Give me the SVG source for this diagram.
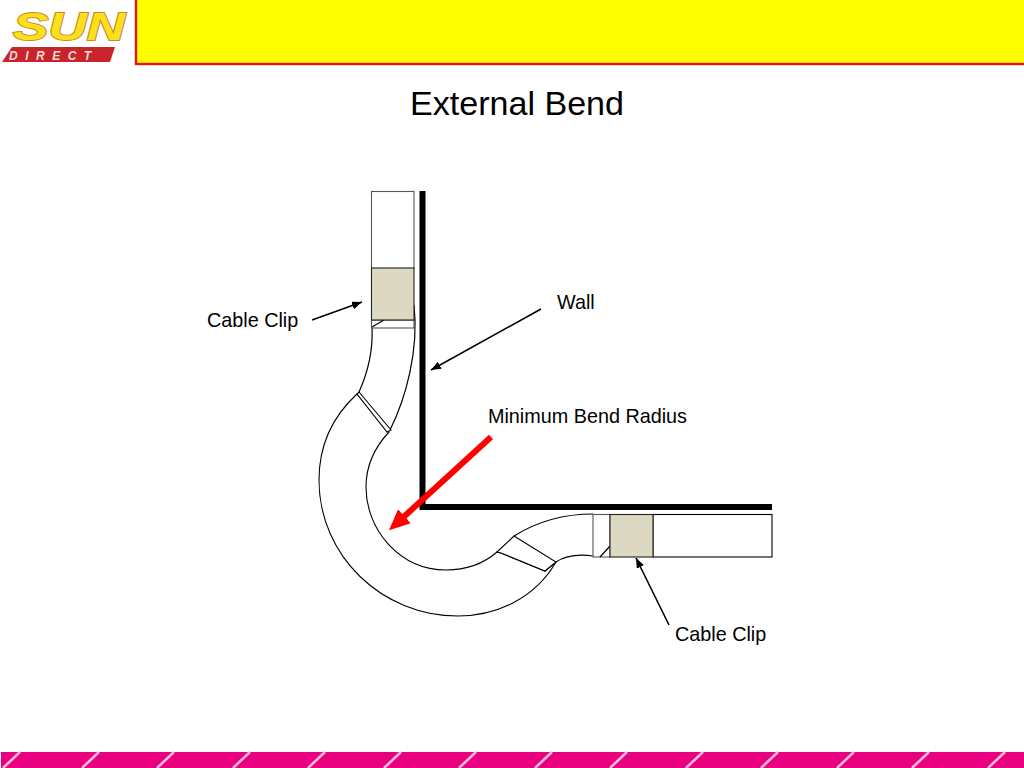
<svg xmlns="http://www.w3.org/2000/svg" width="1024" height="768" viewBox="0 0 1024 768">
<defs>
<marker id="ah" markerUnits="userSpaceOnUse" markerWidth="11" markerHeight="9" refX="10" refY="4" orient="auto"><path d="M0 0L10 4L0 8Z" fill="#000"/></marker>
<marker id="rh" markerUnits="userSpaceOnUse" markerWidth="22" markerHeight="20" refX="2" refY="9.500" orient="auto"><path d="M0 0L21 9.500L0 19Z" fill="#f00"/></marker>
</defs>
<style>
text{font-family:"Liberation Sans",Arial,sans-serif;fill:#000}
.lbl{font-size:19.800px}
.o{fill:#fff;stroke:#000;stroke-width:1.1}
.g{fill:#fff;stroke:#555;stroke-width:1.1}
.c{fill:#ddd8c2;stroke:#222;stroke-width:1.1}
.ln{fill:none;stroke:#000;stroke-width:1.2}
.st{stroke:#f3b6d8;stroke-width:2.600}
</style>
<rect width="1024" height="768" fill="#fff"/>
<g id="logo">
<path d="M2 62L12 47H115L110 62Z" fill="#c8242b"/>
<text x="9" y="60" style="font-size:12px;font-weight:bold;font-style:italic;fill:#f6d9d9;letter-spacing:7.500px">DIRECT</text>
<text x="13" y="40" textLength="112" lengthAdjust="spacingAndGlyphs" style="font-size:39px;font-weight:bold;font-style:italic;fill:#fbe01b;stroke:#c98a2a;stroke-width:1.800;paint-order:stroke">SUN</text>
</g>
<rect id="header" x="136" y="-3" width="892" height="67" fill="#ff0" stroke="#e8141c" stroke-width="2.400"/>
<text id="title" x="517" y="115" text-anchor="middle" style="font-size:34.100px">External Bend</text>
<g id="footer">
<rect x="1" y="752" width="1023" height="16" fill="#e9007f"/>
<path class="st" d="M3 768L20 752M82 768L99 752M157 768L174 752M233 768L250 752M308 768L325 752M384 768L401 752M459 768L476 752M535 768L552 752M610 768L627 752M686 768L703 752M761 768L778 752M837 768L854 752M912 768L929 752M988 768L1005 752"/>
</g>
<g id="cable">
<path class="ln" d="M372 328C373 350 368 372 359 392M390 430C406 398 419 350 414 305"/>
<path class="o" d="M357 394C332 417 319 447 319 480C319 556 382 616 458 616C497 616 535 598 556 562L545 571L501 553L497 552C482 565 465 570 446 570C400 570 366 530 366 487C366 466 375 447 389 432Z"/>
<path class="o" d="M359 392L357 394L387 432L391 430Z"/>
<path class="o" d="M514 536L556 562L545 571L501 553L497 552Z"/>
<path class="ln" d="M514 536C538 521 565 514 593 514M556 562C565 556 578 554 593 556"/>
</g>
<g id="clip-top">
<rect class="g" x="371.500" y="191.500" width="42.500" height="77"/>
<rect class="g" x="371.500" y="320" width="42.500" height="8"/>
<path class="ln" d="M372 327L384 320"/>
<rect class="c" x="371.500" y="268" width="42.500" height="52"/>
</g>
<g id="clip-right">
<rect class="g" x="593" y="514.500" width="17" height="42.500"/>
<path class="ln" d="M600 557L610 546"/>
<rect class="o" x="653" y="514.500" width="119" height="42.500"/>
<rect class="c" x="610" y="514.500" width="43" height="42.500"/>
</g>
<g id="wall" fill="none" stroke="#000" stroke-width="6">
<path d="M422.500 191V507H772"/>
</g>
<g id="connectors">
<path d="M312 320L362 302" fill="none" stroke="#000" stroke-width="1.600" marker-end="url(#ah)"/>
<path d="M541 309L431 370" fill="none" stroke="#000" stroke-width="1.600" marker-end="url(#ah)"/>
<path d="M669 625L636 558" fill="none" stroke="#000" stroke-width="1.600" marker-end="url(#ah)"/>
<path d="M491 437L403 517.500" fill="none" stroke="#f00" stroke-width="6" marker-end="url(#rh)"/>
</g>
<text id="l-clip1" class="lbl" x="207" y="327">Cable Clip</text>
<text id="l-wall" class="lbl" x="557" y="309">Wall</text>
<text id="l-radius" class="lbl" x="488" y="423">Minimum Bend Radius</text>
<text id="l-clip2" class="lbl" x="675" y="641">Cable Clip</text>
</svg>
